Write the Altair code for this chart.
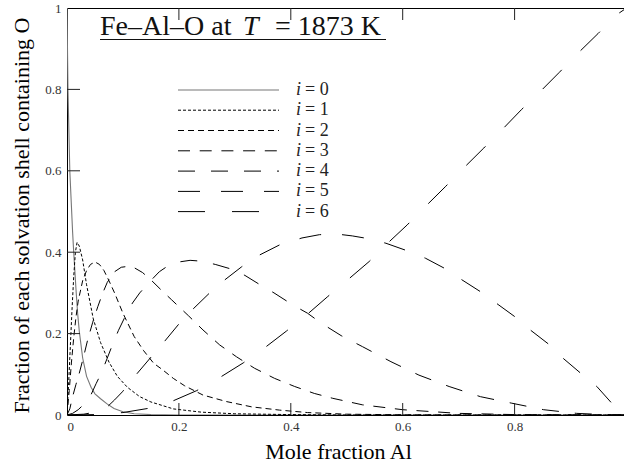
import altair as alt
import pandas as pd

# ---------------- data ----------------
x0 = [0, 0.0017, 0.005, 0.010, 0.012, 0.016, 0.019, 0.022, 0.028, 0.035, 0.043,
      0.05, 0.06, 0.071, 0.084, 0.1, 0.12, 0.15, 0.2, 0.3, 0.5, 1.0]
y0 = [1.0, 0.8, 0.6, 0.45, 0.40, 0.31, 0.25, 0.205, 0.14, 0.095, 0.068,
      0.052, 0.04, 0.028, 0.016, 0.008, 0.003, 0.001, 0.0, 0.0, 0.0, 0.0]

x1 = [0, 0.003, 0.006, 0.009, 0.012, 0.015, 0.018, 0.022, 0.028, 0.035, 0.047,
      0.06, 0.075, 0.09, 0.108, 0.13, 0.15, 0.19, 0.24, 0.3, 0.4, 0.5, 1.0]
y1 = [0, 0.08, 0.17, 0.26, 0.34, 0.40, 0.424, 0.415, 0.381, 0.32, 0.236,
      0.178, 0.13, 0.095, 0.068, 0.045, 0.032, 0.015, 0.007, 0.003, 0.001, 0, 0]

x2 = [0, 0.004, 0.008, 0.012, 0.016, 0.02, 0.028, 0.035, 0.042, 0.05, 0.058,
      0.066, 0.075, 0.085, 0.1, 0.12, 0.137, 0.155, 0.17, 0.19, 0.21, 0.243,
      0.285, 0.33, 0.38, 0.43, 0.5, 0.6, 0.8, 1.0]
y2 = [0, 0.06, 0.13, 0.19, 0.24, 0.28, 0.33, 0.355, 0.37, 0.376, 0.37,
      0.355, 0.33, 0.3, 0.25, 0.193, 0.158, 0.127, 0.112, 0.09, 0.072, 0.049,
      0.033, 0.02, 0.012, 0.006, 0.002, 0.0005, 0, 0]

x3 = [0, 0.005, 0.01, 0.016, 0.022, 0.03, 0.037, 0.046, 0.055, 0.064, 0.072,
      0.085, 0.097, 0.108, 0.12, 0.135, 0.15, 0.17, 0.187, 0.217, 0.243, 0.273,
      0.303, 0.335, 0.371, 0.407, 0.442, 0.475, 0.528, 0.6, 0.7, 0.8, 1.0]
y3 = [0, 0.015, 0.045, 0.075, 0.103, 0.145, 0.185, 0.228, 0.266, 0.3, 0.326,
      0.352, 0.363, 0.365, 0.362, 0.35, 0.332, 0.305, 0.283, 0.244, 0.209, 0.172,
      0.143, 0.115, 0.09, 0.07, 0.053, 0.041, 0.025, 0.013, 0.004, 0.001, 0]

x4 = [0, 0.01, 0.02, 0.03, 0.035, 0.043, 0.052, 0.062, 0.072, 0.082, 0.092,
      0.105, 0.117, 0.13, 0.151, 0.165, 0.18, 0.2, 0.22, 0.24, 0.265, 0.29,
      0.318, 0.345, 0.37, 0.404, 0.43, 0.454, 0.49, 0.528, 0.579, 0.629, 0.683,
      0.739, 0.795, 0.852, 0.911, 0.96, 1.0]
y4 = [0, 0.004, 0.013, 0.026, 0.032, 0.05, 0.077, 0.105, 0.14, 0.175, 0.208,
      0.245, 0.275, 0.3, 0.332, 0.352, 0.366, 0.376, 0.38, 0.378, 0.37, 0.36,
      0.343, 0.32, 0.3, 0.27, 0.25, 0.226, 0.195, 0.168, 0.131, 0.098, 0.07,
      0.045, 0.029, 0.013, 0.004, 0.001, 0]

x5 = [0, 0.03, 0.05, 0.072, 0.085, 0.099, 0.112, 0.126, 0.15, 0.175, 0.199,
      0.225, 0.255, 0.282, 0.312, 0.344, 0.38, 0.42, 0.451, 0.48, 0.51, 0.54,
      0.57, 0.605, 0.641, 0.674, 0.706, 0.739, 0.772, 0.8, 0.828, 0.86, 0.887,
      0.917, 0.947, 0.973, 1.0]
y5 = [0, 0.002, 0.007, 0.02, 0.037, 0.057, 0.08, 0.103, 0.142, 0.182, 0.222,
      0.26, 0.3, 0.332, 0.364, 0.393, 0.418, 0.435, 0.443, 0.445, 0.44, 0.433,
      0.422, 0.405, 0.385, 0.361, 0.332, 0.303, 0.27, 0.242, 0.209, 0.175, 0.139,
      0.104, 0.07, 0.03, 0]

x6 = [0, 0.05, 0.1, 0.144, 0.19, 0.232, 0.273, 0.315, 0.356, 0.392, 0.43,
      0.466, 0.505, 0.54, 0.573, 0.608, 0.644, 0.677, 0.712, 0.745, 0.779,
      0.812, 0.846, 0.88, 0.914, 0.949, 0.983, 1.0]
y6 = [0, 0.001, 0.006, 0.016, 0.035, 0.06, 0.092, 0.128, 0.168, 0.206, 0.248,
      0.291, 0.336, 0.377, 0.422, 0.467, 0.517, 0.562, 0.611, 0.656, 0.703,
      0.75, 0.795, 0.842, 0.89, 0.937, 0.984, 1.0]

series_x = [x0, x1, x2, x3, x4, x5, x6]
series_y = [y0, y1, y2, y3, y4, y5, y6]
series_names = ["0", "1", "2", "3", "4", "5", "6"]

tick_values = [0, 0.2, 0.4, 0.6, 0.8]
y_tick_values = [0, 0.2, 0.4, 0.6, 0.8, 1]
inner_ticks = [0.2, 0.4, 0.6, 0.8]

title_a = "Fe–Al–O at"
title_b = "T"
title_c = "= 1873 K"
x_title = "Mole fraction Al"
y_title = "Fraction of each solvation shell containing O"

# ---------------- layout / style ----------------
W, H = 557, 407
XMAX = 557 / 559.5
FONT = "'Liberation Serif', 'DejaVu Serif', serif"
dash_styles = [None, [3, 2], [6, 4], [12, 9.7], [17, 16], [22, 21], [27, 27]]
line_colors = ["#777777", "black", "black", "black", "black", "black", "black"]

xs = alt.Scale(domain=[0, XMAX], nice=False, zero=False)
ys = alt.Scale(domain=[0, 1], nice=False)

x_axis = alt.Axis(
    values=tick_values, format="~g", title=x_title, grid=False, ticks=False,
    domain=False, labelFont=FONT, labelFontSize=13, labelColor="#333",
    labelPadding=5, titleFont=FONT, titleFontSize=22, titleFontWeight="normal",
    titleColor="black", titlePadding=8, titleX=271)
y_axis = alt.Axis(
    values=y_tick_values, format="~g", title=y_title, grid=False, ticks=False,
    domain=False, labelFont=FONT, labelFontSize=13, labelColor="#333",
    labelPadding=6, titleFont=FONT, titleFontSize=22, titleFontWeight="normal",
    titleColor="black", titleAngle=270, titleX=-46, titleY=207,
    titleAlign="center", titleBaseline="middle")

layers = []
for k in range(7):
    df = pd.DataFrame({"x": series_x[k], "y": series_y[k]})
    mk = dict(color=line_colors[k], strokeWidth=1.1 if k == 0 else 1, clip=True)
    if dash_styles[k] is not None:
        mk["strokeDash"] = dash_styles[k]
    layers.append(alt.Chart(df).mark_line(**mk).encode(
        x=alt.X("x:Q", scale=xs, axis=x_axis),
        y=alt.Y("y:Q", scale=ys, axis=y_axis)))

# inward ticks
tdf = pd.DataFrame({"x": inner_ticks, "y": inner_ticks})
layers.append(alt.Chart(tdf).mark_rule(color="#222", strokeWidth=1).encode(
    y=alt.Y("y:Q", scale=ys, axis=y_axis), x=alt.value(0), x2=alt.value(13)))
layers.append(alt.Chart(tdf).mark_rule(color="#222", strokeWidth=1).encode(
    x=alt.X("x:Q", scale=xs, axis=x_axis), y=alt.value(H), y2=alt.value(H - 12)))
layers.append(alt.Chart(tdf).mark_rule(color="#222", strokeWidth=1).encode(
    x=alt.X("x:Q", scale=xs, axis=x_axis), y=alt.value(0), y2=alt.value(12)))

# legend
one = pd.DataFrame({"a": [0]})
leg_rows = [82, 102.2, 122.5, 142.8, 163.1, 183.4, 203.6]
for k in range(7):
    mk = dict(color=line_colors[k], strokeWidth=1.1 if k == 0 else 1)
    if dash_styles[k] is not None:
        mk["strokeDash"] = dash_styles[k]
    ry = leg_rows[k]
    layers.append(alt.Chart(one).mark_rule(**mk).encode(
        x=alt.value(111), x2=alt.value(212), y=alt.value(ry), y2=alt.value(ry)))
    layers.append(alt.Chart(one).mark_text(
        font=FONT, fontSize=18, fontStyle="italic", align="left", baseline="middle",
        color="#222").encode(x=alt.value(229), y=alt.value(ry), text=alt.value("i")))
    layers.append(alt.Chart(one).mark_text(
        font=FONT, fontSize=18, align="left", baseline="middle", color="#222").encode(
        x=alt.value(238), y=alt.value(ry), text=alt.value("= " + series_names[k])))

# title inside plot
layers.append(alt.Chart(one).mark_text(
    font=FONT, fontSize=28, align="left", baseline="alphabetic", color="#111").encode(
    x=alt.value(33), y=alt.value(27), text=alt.value(title_a)))
layers.append(alt.Chart(one).mark_text(
    font=FONT, fontSize=28, fontStyle="italic", align="left", baseline="alphabetic",
    color="#111").encode(x=alt.value(176), y=alt.value(27), text=alt.value(title_b)))
layers.append(alt.Chart(one).mark_text(
    font=FONT, fontSize=28, align="left", baseline="alphabetic", color="#111").encode(
    x=alt.value(208), y=alt.value(27), text=alt.value(title_c)))
layers.append(alt.Chart(one).mark_rule(color="#111", strokeWidth=1).encode(
    x=alt.value(33), x2=alt.value(319), y=alt.value(31.5), y2=alt.value(31.5)))

chart = alt.layer(*layers).properties(
    width=W, height=H,
    autosize=alt.AutoSizeParams(type="none"),
    padding={"left": 67, "top": 8, "right": 0, "bottom": 51},
    background="white",
).configure_view(stroke="black", strokeWidth=1)

chart.save("out.html", embed_options={"renderer": "svg", "actions": False})
